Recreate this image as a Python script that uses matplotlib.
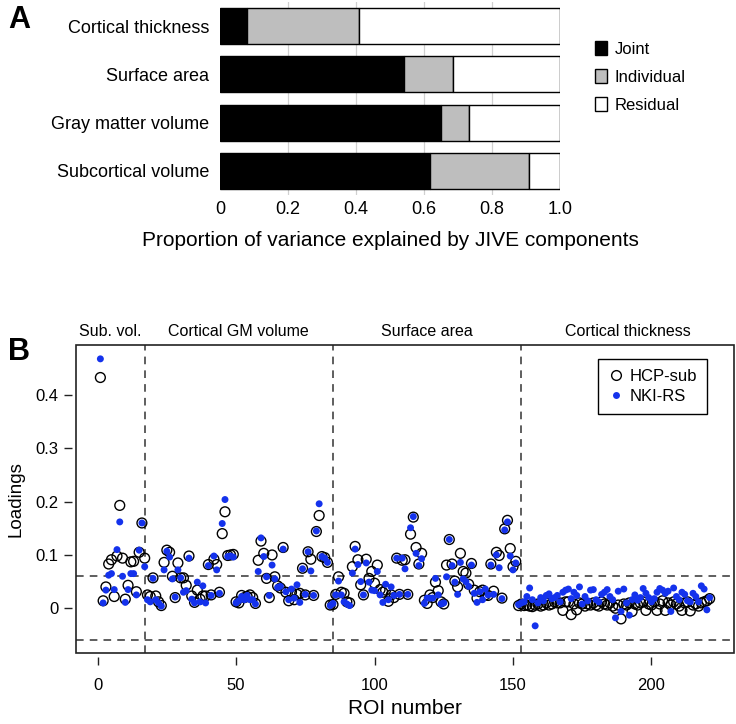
import numpy as np
import matplotlib.pyplot as plt
from matplotlib.patches import Patch, Rectangle
from matplotlib.lines import Line2D

plt.rcParams['font.family'] = ['Liberation Sans', 'DejaVu Sans']

# ---- panel A data: proportion of variance
measures = ['Cortical thickness', 'Surface area', 'Gray matter volume', 'Subcortical volume']
joint = [0.080, 0.541, 0.650, 0.619]
individual = [0.330, 0.143, 0.082, 0.291]
residual = [1 - j - i for j, i in zip(joint, individual)]

# ---- panel B data: loadings per ROI (1..221)
hcp_sub = [0.433, 0.014, 0.040, 0.083, 0.091, 0.022, 0.098, 0.193, 0.094, 0.017,
           0.043, 0.087, 0.088, 0.031, 0.105, 0.160, 0.094]
nki_sub = [0.468, 0.010, 0.034, 0.062, 0.065, 0.035, 0.110, 0.162, 0.060, 0.011,
           0.035, 0.065, 0.065, 0.025, 0.109, 0.160, 0.078]

hcp_gm = [0.025, 0.022, 0.057, 0.023, 0.012, 0.005, 0.086, 0.109, 0.105, 0.060,
          0.020, 0.085, 0.057, 0.057, 0.043, 0.098, 0.023, 0.011, 0.034, 0.017,
          0.023, 0.023, 0.082, 0.025, 0.092, 0.082, 0.030, 0.140, 0.181, 0.099,
          0.100, 0.101, 0.012, 0.010, 0.024, 0.020, 0.022, 0.025, 0.020, 0.009,
          0.090, 0.126, 0.103, 0.056, 0.020, 0.100, 0.059, 0.042, 0.038, 0.114,
          0.030, 0.014, 0.030, 0.016, 0.026, 0.028, 0.075, 0.025, 0.106, 0.092,
          0.024, 0.144, 0.174, 0.097, 0.095, 0.086, 0.006, 0.007]
nki_gm = [0.016, 0.012, 0.056, 0.016, 0.010, 0.004, 0.072, 0.107, 0.096, 0.055,
          0.021, 0.072, 0.057, 0.030, 0.033, 0.094, 0.017, 0.010, 0.049, 0.012,
          0.042, 0.010, 0.080, 0.024, 0.098, 0.072, 0.028, 0.159, 0.204, 0.097,
          0.098, 0.096, 0.010, 0.014, 0.022, 0.016, 0.024, 0.016, 0.016, 0.008,
          0.069, 0.132, 0.097, 0.059, 0.024, 0.081, 0.055, 0.039, 0.041, 0.111,
          0.031, 0.016, 0.036, 0.019, 0.044, 0.011, 0.074, 0.026, 0.106, 0.070,
          0.024, 0.145, 0.196, 0.097, 0.094, 0.086, 0.005, 0.009]

hcp_sa = [0.026, 0.059, 0.030, 0.028, 0.012, 0.010, 0.078, 0.116, 0.091, 0.044,
          0.025, 0.092, 0.056, 0.069, 0.047, 0.081, 0.035, 0.030, 0.034, 0.013,
          0.025, 0.020, 0.094, 0.026, 0.090, 0.091, 0.026, 0.139, 0.171, 0.114,
          0.083, 0.103, 0.015, 0.009, 0.025, 0.020, 0.049, 0.033, 0.012, 0.008,
          0.081, 0.129, 0.083, 0.051, 0.040, 0.103, 0.069, 0.066, 0.045, 0.084,
          0.034, 0.019, 0.031, 0.034, 0.025, 0.024, 0.083, 0.032, 0.105, 0.099,
          0.019, 0.149, 0.165, 0.112, 0.078, 0.088, 0.005, 0.008]
nki_sa = [0.025, 0.051, 0.025, 0.012, 0.008, 0.005, 0.066, 0.111, 0.082, 0.050,
          0.025, 0.085, 0.049, 0.034, 0.033, 0.069, 0.025, 0.011, 0.045, 0.016,
          0.040, 0.024, 0.094, 0.026, 0.094, 0.074, 0.026, 0.151, 0.172, 0.103,
          0.080, 0.093, 0.009, 0.019, 0.019, 0.019, 0.056, 0.025, 0.008, 0.010,
          0.059, 0.129, 0.080, 0.049, 0.026, 0.086, 0.055, 0.050, 0.041, 0.081,
          0.028, 0.011, 0.031, 0.016, 0.036, 0.025, 0.081, 0.026, 0.100, 0.076,
          0.018, 0.147, 0.162, 0.098, 0.072, 0.085, 0.007, 0.010]

hcp_ct = [0.005, 0.006, 0.004, 0.003, 0.006, 0.008, 0.004, 0.006, 0.010, 0.006,
          0.008, 0.012, 0.010, 0.010, -0.004, 0.012, 0.012, -0.012, 0.008, -0.003,
          0.010, 0.008, 0.004, 0.008, 0.006, 0.010, 0.006, 0.004, 0.012, 0.008,
          0.006, 0.010, 0.004, 0.000, 0.006, -0.020, 0.008, 0.006, 0.010, -0.006,
          0.008, 0.006, 0.010, 0.012, -0.004, 0.008, 0.006, 0.012, -0.004, 0.008,
          0.014, -0.004, 0.010, 0.006, 0.012, 0.008, 0.004, -0.004, 0.010, 0.012,
          -0.005, 0.006, 0.008, 0.004, 0.010, 0.012, 0.014, 0.018]
nki_ct = [0.012, 0.022, 0.038, 0.016, -0.033, 0.010, 0.020, 0.014, 0.024, 0.027,
          0.018, 0.020, 0.024, 0.012, 0.030, 0.034, 0.036, 0.018, 0.030, 0.024,
          0.040, 0.008, 0.022, 0.014, 0.034, 0.035, 0.016, 0.012, 0.026, 0.030,
          0.035, 0.022, 0.016, -0.018, 0.032, -0.006, 0.036, 0.010, -0.013, 0.016,
          0.025, 0.015, 0.020, 0.037, 0.028, 0.020, 0.012, 0.018, 0.030, 0.037,
          0.034, 0.028, 0.032, -0.006, 0.038, 0.022, 0.016, 0.030, 0.026, 0.014,
          0.012, 0.028, 0.022, 0.012, 0.042, 0.036, -0.003, 0.020]

section_names = ['Sub. vol.', 'Cortical GM volume', 'Surface area', 'Cortical thickness']
section_ends = [17, 85, 153]

hcp = np.array(hcp_sub + hcp_gm + hcp_sa + hcp_ct)
nki = np.array(nki_sub + nki_gm + nki_sa + nki_ct)
roi = np.arange(1, len(hcp) + 1)

W, H = 736, 724
fig = plt.figure(figsize=(W / 100, H / 100), dpi=100)

# ---------------- panel A
axA = fig.add_axes([220 / W, 1 - 195 / H, 340 / W, 193 / H])
ypos = np.arange(len(measures))[::-1]
for g in [0.2, 0.4, 0.6, 0.8]:
    axA.axvline(g, color='#d0d0d0', lw=0.9, zorder=0)
axA.barh(ypos, joint, height=0.75, color='black', edgecolor='black', lw=1, zorder=2)
axA.barh(ypos, individual, left=joint, height=0.75, color='#bebebe', edgecolor='black', lw=1, zorder=2)
axA.barh(ypos, residual, left=np.add(joint, individual), height=0.75, color='white',
         edgecolor='black', lw=1, zorder=2)
axA.set_xlim(0, 1.0)
axA.set_ylim(-0.5, 3.5)
for s in axA.spines.values():
    s.set_visible(False)
axA.set_yticks(ypos)
axA.set_yticklabels(measures, fontsize=13)
axA.tick_params(axis='y', length=0, pad=8)
axA.set_xticks([0, 0.2, 0.4, 0.6, 0.8, 1.0])
axA.set_xticklabels(['0', '0.2', '0.4', '0.6', '0.8', '1.0'], fontsize=13)
axA.tick_params(axis='x', length=0, pad=4)
axA.set_xlabel('Proportion of variance explained by JIVE components', fontsize=15, labelpad=10)

leg_handles = [Patch(facecolor='black', edgecolor='black', label='Joint'),
               Patch(facecolor='#bebebe', edgecolor='black', label='Individual'),
               Patch(facecolor='white', edgecolor='black', label='Residual')]
fig.legend(handles=leg_handles, loc='upper left', bbox_to_anchor=(580 / W, 1 - 26 / H),
           frameon=False, fontsize=12, handlelength=0.7, handleheight=0.9,
           handletextpad=0.5, labelspacing=0.75)
fig.text(8 / W, 1 - 20 / H, 'A', fontsize=22, fontweight='bold', va='center', ha='left')

# ---------------- panel B
axB = fig.add_axes([76 / W, 1 - 653 / H, 658 / W, 308 / H])
axB.scatter(roi, hcp, s=50, facecolors='none', edgecolors='black', linewidths=1.0, zorder=3)
axB.scatter(roi, nki, s=25, color='#1432ec', edgecolors='none', zorder=4)
for v in section_ends:
    axB.axvline(v, color='#333333', lw=1.1, ls=(0, (5, 4)), zorder=1)
for h in [0.06, -0.06]:
    axB.axhline(h, color='#333333', lw=1.1, ls=(0, (5, 4)), zorder=1)
axB.set_xlim(-7.8, 229.8)
axB.set_ylim(-0.084, 0.494)

bounds = [-7.8] + section_ends + [229.8]
for name, a, b in zip(section_names, bounds[:-1], bounds[1:]):
    axB.text((a + b) / 2, 1.045, name, transform=axB.get_xaxis_transform(),
             ha='center', va='center', fontsize=11.5)

for s in axB.spines.values():
    s.set_visible(False)
axB.spines['left'].set_position(('outward', 3))
axB.spines['bottom'].set_position(('outward', 3))
axB.add_patch(Rectangle((0, 0), 1, 1, transform=axB.transAxes, fill=False,
                        edgecolor='#222222', lw=1.2, clip_on=False, zorder=5))
axB.set_xticks([0, 50, 100, 150, 200])
axB.set_yticks([0, 0.1, 0.2, 0.3, 0.4])
axB.set_yticklabels(['0', '0.1', '0.2', '0.3', '0.4'])
axB.tick_params(axis='both', labelsize=12, length=6, width=1, color='#222222')
axB.tick_params(axis='x', pad=9)
axB.set_xlabel('ROI number', fontsize=15, labelpad=4)
axB.set_ylabel('Loadings', fontsize=13.5, labelpad=8)

leg = axB.legend(handles=[Line2D([], [], marker='o', ls='none', mfc='none', mec='black', ms=7, mew=1.0, label='HCP-sub'),
                          Line2D([], [], marker='o', ls='none', mfc='#1432ec', mec='none', ms=5, label='NKI-RS')],
                 loc='upper right', bbox_to_anchor=(0.959, 0.955), borderaxespad=0, fontsize=12,
                 fancybox=False, framealpha=1, edgecolor='black', handletextpad=0.3, borderpad=0.6,
                 handlelength=1.0, labelspacing=0.3)
leg.get_frame().set_linewidth(1.0)
fig.text(8 / W, 1 - 352 / H, 'B', fontsize=22, fontweight='bold', va='center', ha='left')

fig.savefig('out.png', dpi=100)
